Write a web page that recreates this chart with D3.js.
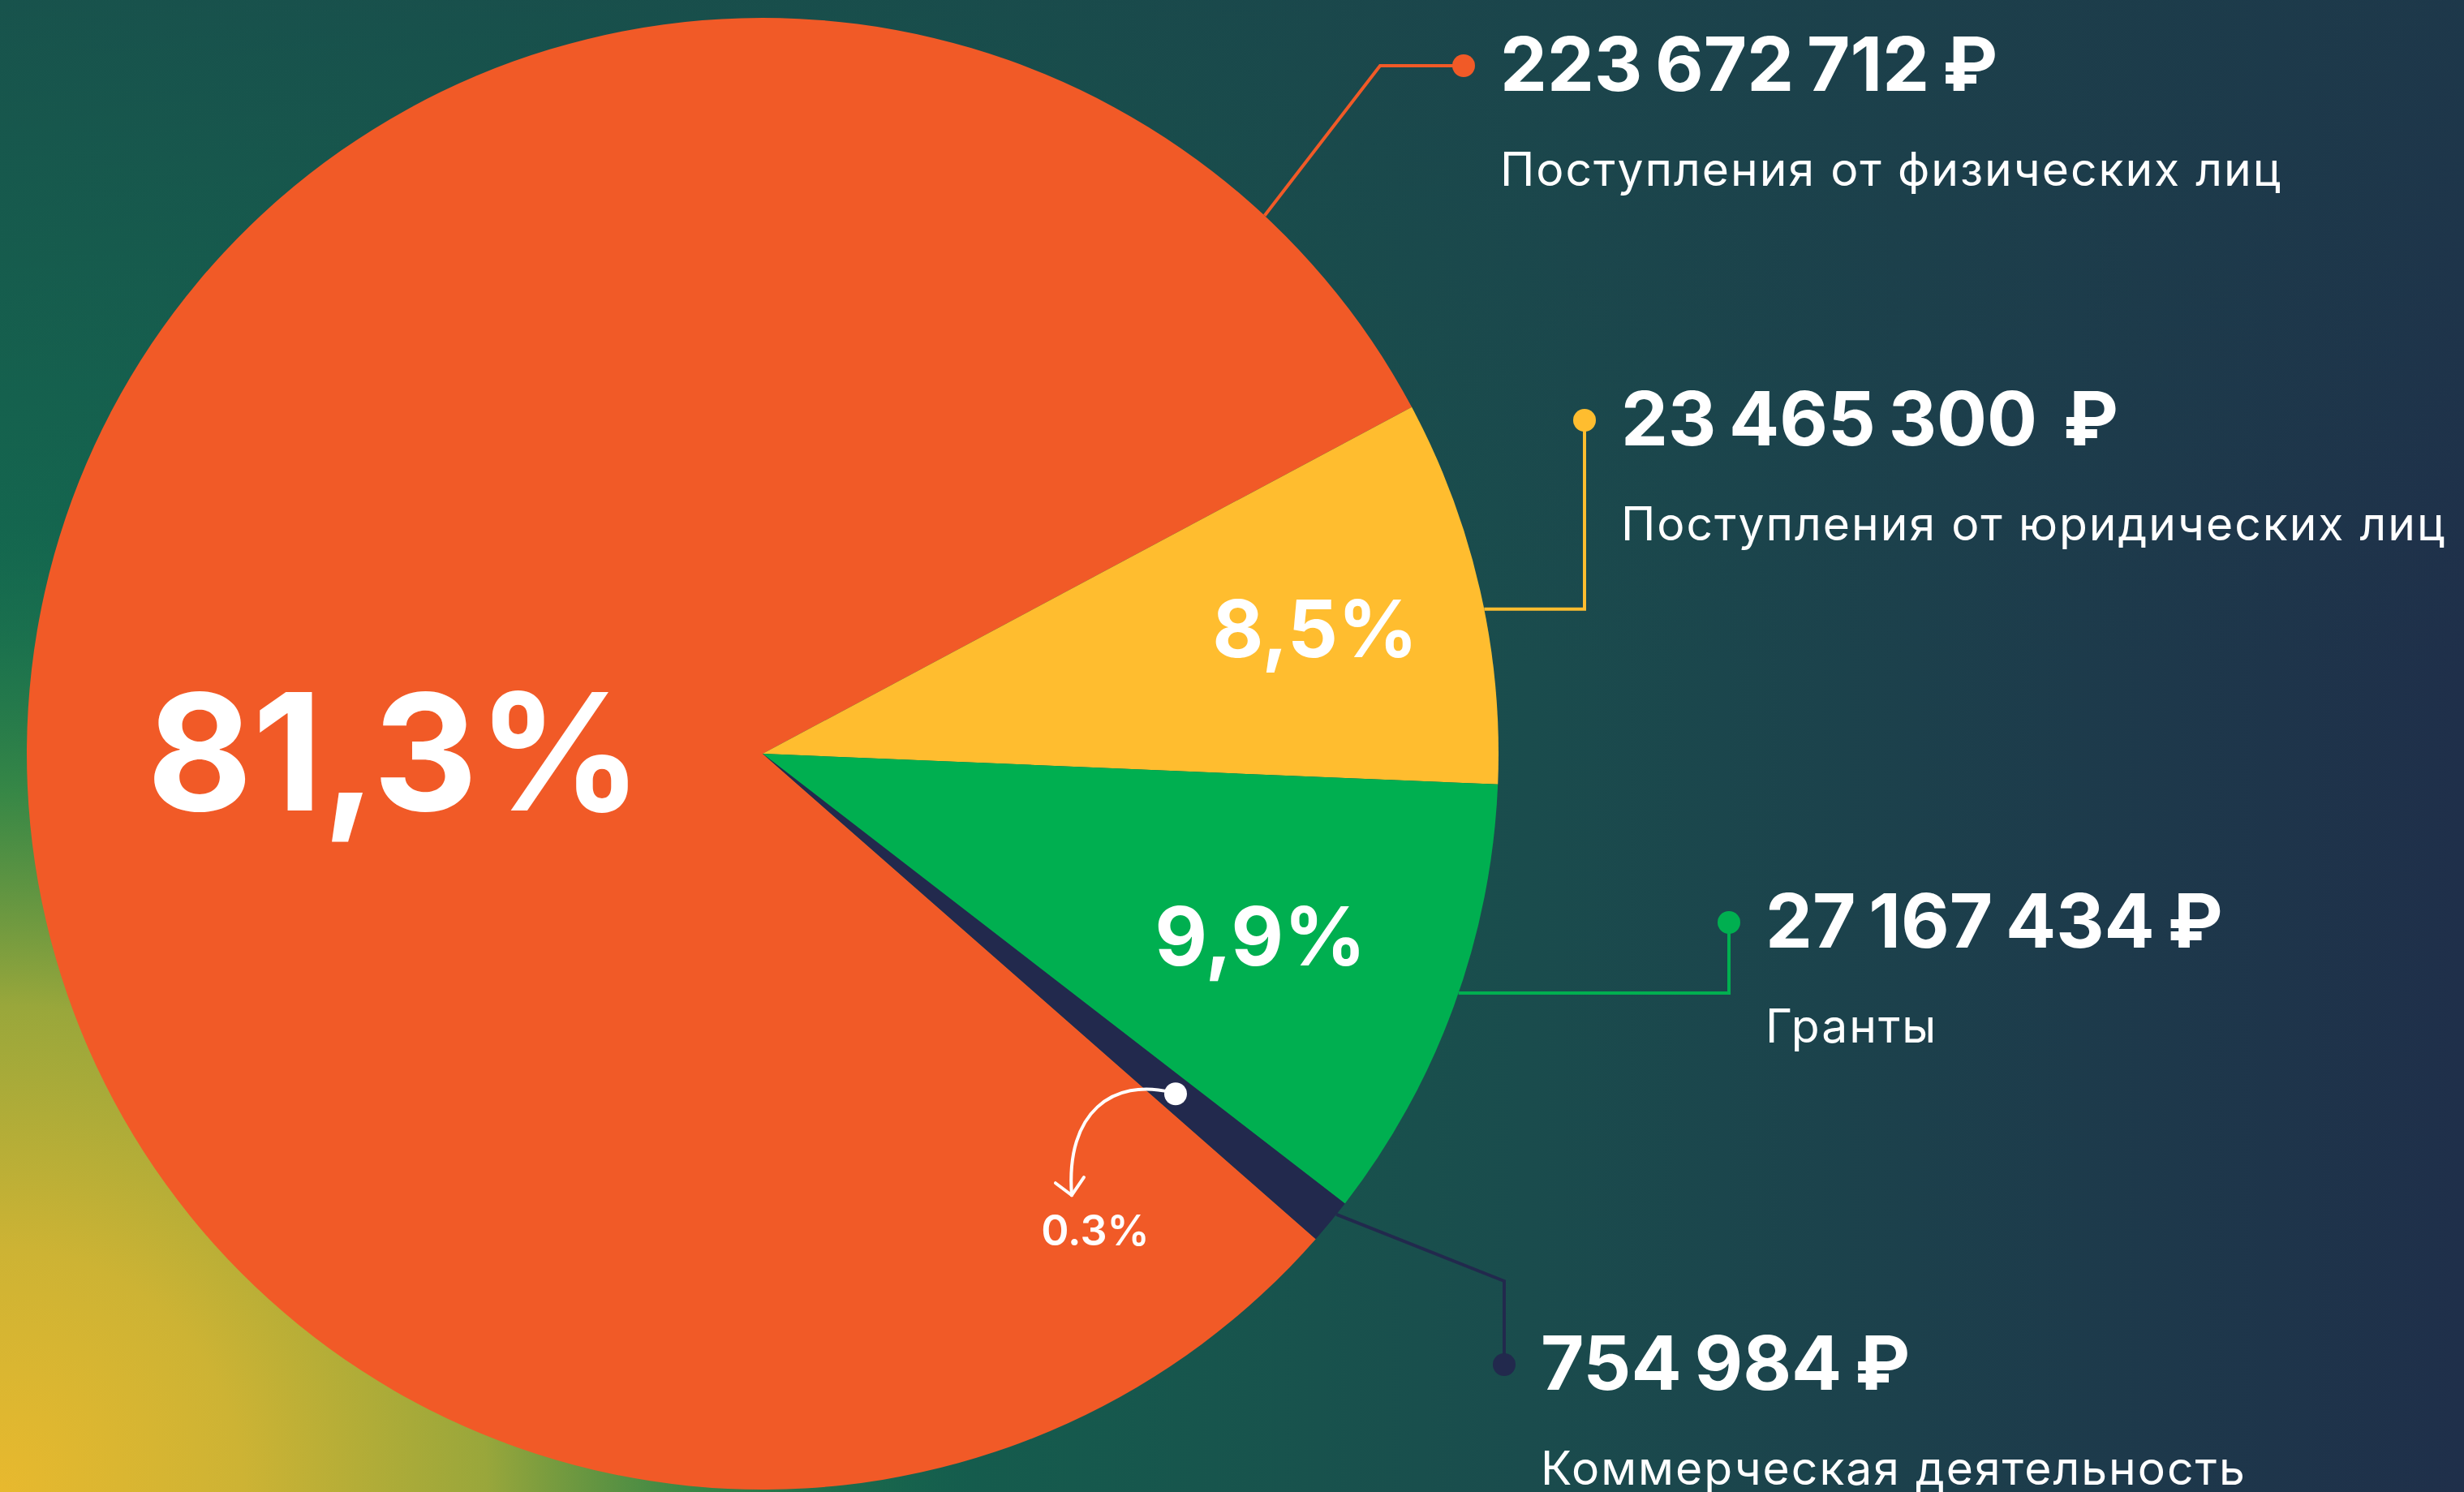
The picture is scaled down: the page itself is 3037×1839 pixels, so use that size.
<!DOCTYPE html>
<html lang="ru">
<head>
<meta charset="utf-8">
<script src="https://cdn.jsdelivr.net/npm/d3@7"></script>
<style>
  html, body { margin: 0; padding: 0; overflow: hidden; background: #155a4d; }
  svg { display: block; }
  text { font-family: Inter, "Noto Sans", sans-serif; white-space: pre; }
</style>
</head>
<body>
<div id="chart"></div>
<script>
// ---- данные ----
const categories = [
  "Поступления от физических лиц",
  "Поступления от юридических лиц",
  "Гранты",
  "Коммерческая деятельность"
];
const amounts = [223672712, 23465300, 27167434, 754984];
const amountLabels = ["223 672 712 ₽", "23 465 300  ₽", "27 167 434 ₽", "754 984 ₽"];
const shareLabels = ["81,3%", "8,5%", "9,9%", "0.3%"];
const colors = ["#f15a27", "#ffbd2f", "#00af50", "#22294d"];

// ---- размеры ----
const width = 3037;
const height = 1839;
const cx = 940, cy = 929, R = 907;
const deg = Math.PI / 180;

const svg = d3.select("#chart").append("svg")
  .attr("width", width)
  .attr("height", height);

// ---- фон ----
const defs = svg.append("defs");

const bg = defs.append("linearGradient").attr("id", "bg")
  .attr("x1", 0).attr("y1", 0).attr("x2", 1).attr("y2", 0);
[[0, "#136b4f"], [0.35, "#145f4d"], [0.62, "#1a4c4d"], [1, "#1f2f4a"]]
  .forEach(([o, c]) => bg.append("stop").attr("offset", o).attr("stop-color", c));

const topShade = defs.append("linearGradient").attr("id", "topShade")
  .attr("x1", 0).attr("y1", 0).attr("x2", 0).attr("y2", 1);
[[0, 0.55], [0.45, 0]].forEach(([o, a]) =>
  topShade.append("stop").attr("offset", o).attr("stop-color", "#1c3f4a").attr("stop-opacity", a));

const glow = defs.append("radialGradient").attr("id", "glow")
  .attr("gradientUnits", "userSpaceOnUse")
  .attr("cx", 0).attr("cy", height).attr("r", 1200);
[[0, "#e8b92e", 1], [0.25, "#cdb334", 1], [0.5, "#a0aa3a", 0.95], [0.72, "#3f8e44", 0.8], [1, "#177050", 0]]
  .forEach(([o, c, a]) => glow.append("stop").attr("offset", o).attr("stop-color", c).attr("stop-opacity", a));

svg.append("rect").attr("width", width).attr("height", height).attr("fill", "url(#bg)");
svg.append("rect").attr("width", width).attr("height", height).attr("fill", "url(#topShade)");
svg.append("rect").attr("width", width).attr("height", height).attr("fill", "url(#glow)");

// ---- круговая диаграмма ----
// крошечный сектор рисуем не уже 1%, иначе его не видно
const total = d3.sum(amounts);
const shown = amounts.map(v => Math.max(v, total * 0.01));
const firstSpan = shown[0] / d3.sum(shown) * 2 * Math.PI;
const a0 = 61.9 * deg - firstSpan;

const pie = d3.pie().sort(null).startAngle(a0).endAngle(a0 + 2 * Math.PI);
const arcs = pie(shown);
const arc = d3.arc().innerRadius(0).outerRadius(R);

const g = svg.append("g").attr("transform", `translate(${cx},${cy})`);

g.selectAll("path.slice")
  .data(arcs)
  .enter()
  .append("path")
  .attr("class", "slice")
  .attr("d", arc)
  .attr("fill", (d, i) => colors[i]);

// ---- проценты внутри секторов ----
const pctPos = [
  { angle: 270.5 * deg, r: 0.50, size: 200 },
  { angle: null, r: 0.77, size: 97 },
  { angle: null, r: 0.72, size: 100 }
];
pctPos.forEach((p, i) => {
  const a = p.angle !== null ? p.angle : (arcs[i].startAngle + arcs[i].endAngle) / 2;
  const [x, y] = d3.pointRadial(a, R * p.r);
  g.append("text")
    .attr("x", x)
    .attr("y", y)
    .attr("dy", "0.37em")
    .attr("text-anchor", "middle")
    .attr("fill", "white")
    .attr("font-weight", 700)
    .attr("font-size", p.size)
    .text(shareLabels[i]);
});

// ---- выноска 0.3% ----
const navy = arcs[3];
const [ax, ay] = d3.pointRadial((navy.startAngle + navy.endAngle) / 2, R * 0.727);
const tipX = ax - 128, tipY = ay + 125;
g.append("path")
  .attr("d", `M${ax - 6},${ay - 2} C${ax - 76},${ay - 19} ${ax - 136},${ay + 21} ${tipX},${tipY}`)
  .attr("fill", "none")
  .attr("stroke", "white")
  .attr("stroke-width", 4)
  .attr("stroke-linecap", "round");
g.append("path")
  .attr("d", `M${tipX - 20},${tipY - 15} L${tipX},${tipY} L${tipX + 15},${tipY - 22}`)
  .attr("fill", "none")
  .attr("stroke", "white")
  .attr("stroke-width", 4)
  .attr("stroke-linecap", "round")
  .attr("stroke-linejoin", "round");
g.append("circle")
  .attr("cx", ax).attr("cy", ay).attr("r", 14)
  .attr("fill", "white");
g.append("text")
  .attr("x", tipX + 29)
  .attr("y", tipY + 62)
  .attr("text-anchor", "middle")
  .attr("fill", "white")
  .attr("font-weight", 600)
  .attr("font-size", 52)
  .text(shareLabels[3]);

// ---- подписи с линиями ----
const labelDots = [[1804, 81], [1953, 518], [2131, 1137], [1854, 1682]];
const anchorAt = [0.935, 0.55, 0.47, 0.3];       // где линия касается края сектора
const elbows = [[-103, 0], null, null, [0, -103]]; // излом относительно точки

arcs.forEach((d, i) => {
  const a = d.startAngle + (d.endAngle - d.startAngle) * anchorAt[i];
  const [px, py] = d3.pointRadial(a, R);
  const sx = cx + px, sy = cy + py;
  const [dx, dy] = labelDots[i];
  const corner = elbows[i] ? [dx + elbows[i][0], dy + elbows[i][1]] : [dx, sy];

  svg.append("path")
    .attr("d", d3.line()([[sx, sy], corner, [dx, dy]]))
    .attr("fill", "none")
    .attr("stroke", colors[i])
    .attr("stroke-width", 4);

  svg.append("circle")
    .attr("cx", dx).attr("cy", dy).attr("r", 14)
    .attr("fill", colors[i]);

  svg.append("text")
    .attr("x", dx + 45)
    .attr("y", dy + 31)
    .attr("fill", "white")
    .attr("font-weight", 700)
    .attr("font-size", 92)
    .attr("word-spacing", -6)
    .text(amountLabels[i]);

  svg.append("text")
    .attr("x", dx + 45)
    .attr("y", dy + 148)
    .attr("fill", "white")
    .attr("font-weight", 400)
    .attr("font-size", 57)
    .attr("letter-spacing", 2)
    .text(categories[i]);
});
</script>
</body>
</html>
